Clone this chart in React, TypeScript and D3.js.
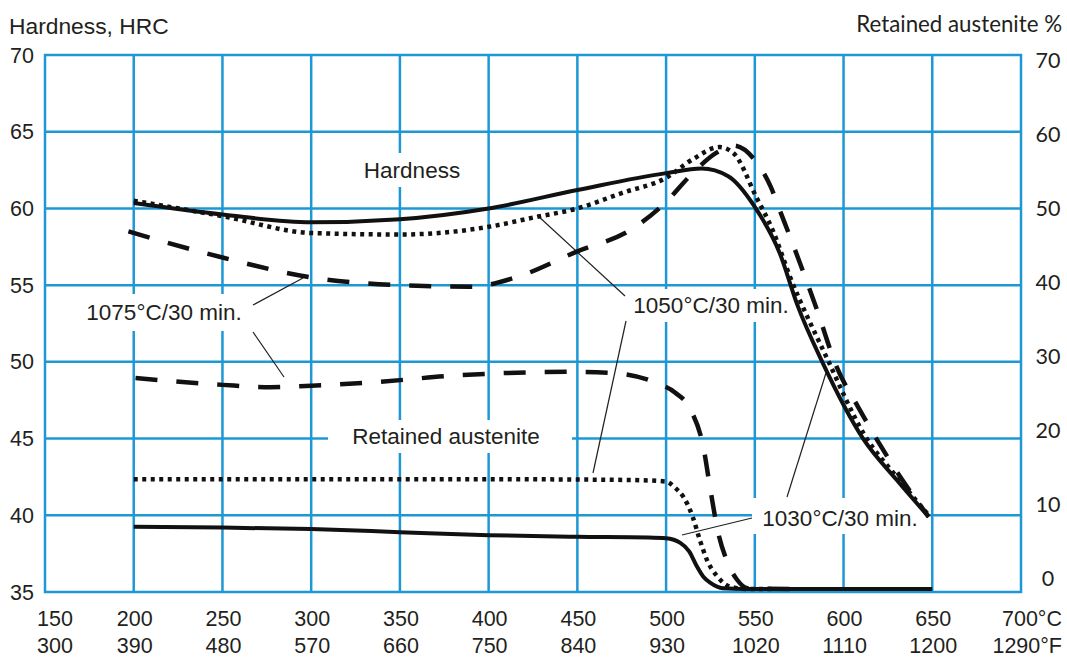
import React from "react";
import * as d3 from "d3";

// ---------- data ----------
const celsiusTicks = [150, 200, 250, 300, 350, 400, 450, 500, 550, 600, 650, 700];
const celsiusLabels = ["150", "200", "250", "300", "350", "400", "450", "500", "550", "600", "650", "700°C"];
const fahrenheitLabels = ["300", "390", "480", "570", "660", "750", "840", "930", "1020", "1110", "1200", "1290°F"];
const hrcTicks = [35, 40, 45, 50, 55, 60, 65, 70];
const raTicks = [0, 10, 20, 30, 40, 50, 60, 70];

// Hardness, HRC
const hard1030T = [200, 250, 300, 350, 400, 450, 500, 520, 535, 550, 564, 574, 588, 611, 630, 648];
const hard1030 = [60.35, 59.6, 59.1, 59.3, 60.0, 61.2, 62.3, 62.6, 62.1, 60.1, 57.1, 53.7, 50.0, 45.0, 42.3, 39.9];

const hard1050T = [200, 250, 300, 350, 400, 425, 450, 475, 500, 515, 530, 538, 551, 560, 570, 590, 612, 630, 648];
const hard1050 = [60.5, 59.5, 58.4, 58.3, 58.8, 59.4, 60.0, 61.0, 62.0, 63.2, 64.0, 63.6, 60.7, 58.6, 55.5, 50.4, 45.2, 42.5, 40.0];

const hard1075T = [197, 250, 300, 350, 390, 415, 450, 480, 498, 515, 528, 538, 551, 559, 564, 572, 585, 596, 608, 620, 632, 648];
const hard1075 = [58.5, 56.8, 55.5, 55.0, 54.9, 55.5, 57.2, 58.6, 60.2, 62.3, 63.6, 64.1, 63.0, 61.4, 59.9, 57.5, 53.4, 49.7, 47.1, 44.7, 42.5, 39.9];

// Retained austenite, %
const ra1030T = [200, 250, 300, 350, 400, 450, 490, 500, 508, 513, 517, 521, 525, 532, 545, 650];
const ra1030 = [8.5, 8.4, 8.2, 7.8, 7.4, 7.2, 7.1, 7.0, 6.4, 5.3, 3.5, 2.0, 1.2, 0.5, 0.4, 0.4];

const ra1050T = [200, 300, 400, 480, 500, 505, 510, 515, 519, 523, 529, 536, 545, 560];
const ra1050 = [14.7, 14.7, 14.7, 14.6, 14.4, 13.6, 12.3, 9.8, 6.8, 4.2, 2.0, 0.7, 0.4, 0.4];

const ra1075T = [201, 250, 277, 300, 333, 380, 444, 472, 495, 505, 514, 521, 525, 529, 534, 540, 546, 570];
const ra1075 = [27.9, 27.0, 26.7, 26.9, 27.3, 28.2, 28.7, 28.5, 27.2, 26.0, 23.7, 18.9, 13.3, 8.1, 4.2, 1.6, 0.5, 0.4];

// ---------- layout ----------
const W = 1067;
const H = 659;
const left = 45;
const right = 1021;
const top = 55;
const bottom = 592;

const GRID = "#1e98d5";
const INK = "#231f20";
const SANS = "'Liberation Sans', Arial, Helvetica, sans-serif";
const HUM = "Lato, 'Open Sans', sans-serif";

export default function App() {
  const x = d3.scaleLinear().domain([150, 700]).range([left, right]);
  const y = d3.scaleLinear().domain([35, 70]).range([bottom, top]);
  const yRA = d3.scaleLinear().domain([0, 70]).range([bottom, top]);
  const yRALabel = d3.scaleLinear().domain([0, 70]).range([578, 60]);

  const lineH = (ts: number[], vs: number[]) =>
    d3
      .line<number>()
      .x((_, i) => x(ts[i]))
      .y((v) => y(v))
      .curve(d3.curveMonotoneX)(vs) || "";
  const lineRA = (ts: number[], vs: number[]) =>
    d3
      .line<number>()
      .x((_, i) => x(ts[i]))
      .y((v) => yRA(v))
      .curve(d3.curveMonotoneX)(vs) || "";

  const boxes = [
    { x: 352, y: 153, w: 120, h: 34 },
    { x: 328, y: 420, w: 244, h: 33 },
    { x: 78, y: 294, w: 174, h: 37 },
    { x: 624, y: 289, w: 174, h: 33 },
    { x: 752, y: 498, w: 178, h: 36 },
  ];

  const labels = [
    { t: "Hardness", x: 412, y: 170 },
    { t: "Retained austenite", x: 446, y: 436 },
    { t: "1075°C/30 min.", x: 164, y: 312 },
    { t: "1050°C/30 min.", x: 711, y: 305 },
    { t: "1030°C/30 min.", x: 840, y: 518 },
  ];

  const leaders = [
    [253, 305, 303, 278],
    [253, 332, 284, 377],
    [625, 296, 537, 215],
    [626, 321, 593, 473],
    [752, 518, 682, 535],
    [787, 497, 826, 373],
  ];

  return (
    <svg width={W} height={H} style={{ display: "block", position: "absolute", left: 0, top: 0 }}>
      <rect width={W} height={H} fill="#fff" />
      {/* grid */}
      <g stroke={GRID} strokeWidth={2.5} fill="none">
        {hrcTicks.slice(1, -1).map((v) => (
          <line key={"h" + v} x1={left} x2={right} y1={y(v)} y2={y(v)} />
        ))}
        {celsiusTicks.slice(1, -1).map((v) => (
          <line key={"v" + v} x1={x(v)} x2={x(v)} y1={top} y2={bottom} />
        ))}
        <rect x={left} y={top} width={right - left} height={bottom - top} />
      </g>
      {/* label backgrounds */}
      {boxes.map((b, i) => (
        <rect key={"b" + i} x={b.x} y={b.y} width={b.w} height={b.h} fill="#fff" />
      ))}
      {/* leader lines */}
      <g stroke={INK} strokeWidth={1.2}>
        {leaders.map((l, i) => (
          <line key={"l" + i} x1={l[0]} y1={l[1]} x2={l[2]} y2={l[3]} />
        ))}
      </g>
      {/* curves */}
      <g fill="none" stroke="#111">
        <path d={lineH(hard1030T, hard1030)} strokeWidth={4} />
        <path d={lineH(hard1050T, hard1050)} strokeWidth={4.5} strokeDasharray="4 4.5" />
        <path d={lineH(hard1075T, hard1075)} strokeWidth={4.5} strokeDasharray="22 19" />
        <path d={lineRA(ra1030T, ra1030)} strokeWidth={4} />
        <path d={lineRA(ra1050T, ra1050)} strokeWidth={4.5} strokeDasharray="4 4.5" />
        <path d={lineRA(ra1075T, ra1075)} strokeWidth={4.5} strokeDasharray="22 19" />
      </g>
      {/* inner labels */}
      <g fontFamily={SANS} fontSize={22.5} fill={INK} textAnchor="middle">
        {labels.map((l, i) => (
          <text key={"t" + i} x={l.x} y={l.y} dy="0.35em">
            {l.t}
          </text>
        ))}
      </g>
      {/* axis titles */}
      <text x={9} y={34} fontFamily={SANS} fontSize={22.8} fill={INK}>
        Hardness, HRC
      </text>
      <text x={1062} y={32} fontFamily={HUM} fontSize={22.3} fill={INK} textAnchor="end">
        Retained austenite %
      </text>
      {/* left ticks */}
      <g fontFamily={SANS} fontSize={21.5} fill={INK} textAnchor="end">
        {hrcTicks.map((v) => (
          <text key={"yl" + v} x={34} y={y(v)} dy="0.35em">
            {v}
          </text>
        ))}
      </g>
      {/* right ticks */}
      <g fontFamily={HUM} fontSize={21.5} fill={INK} textAnchor="middle">
        {raTicks.map((v) => (
          <text key={"yr" + v} x={1048} y={yRALabel(v)} dy="0.35em">
            {v}
          </text>
        ))}
      </g>
      {/* bottom ticks */}
      <g fontFamily={SANS} fontSize={21.5} fill={INK}>
        {celsiusTicks.map((v, i) => {
          const last = i === celsiusTicks.length - 1;
          const first = i === 0;
          const xx = last ? 1062 : x(v) + (first ? 10 : 1);
          const anchor = last ? "end" : "middle";
          return (
            <g key={"xt" + v}>
              <text x={xx} y={618} dy="0.35em" textAnchor={anchor}>
                {celsiusLabels[i]}
              </text>
              <text x={xx} y={645} dy="0.35em" textAnchor={anchor}>
                {fahrenheitLabels[i]}
              </text>
            </g>
          );
        })}
      </g>
    </svg>
  );
}
